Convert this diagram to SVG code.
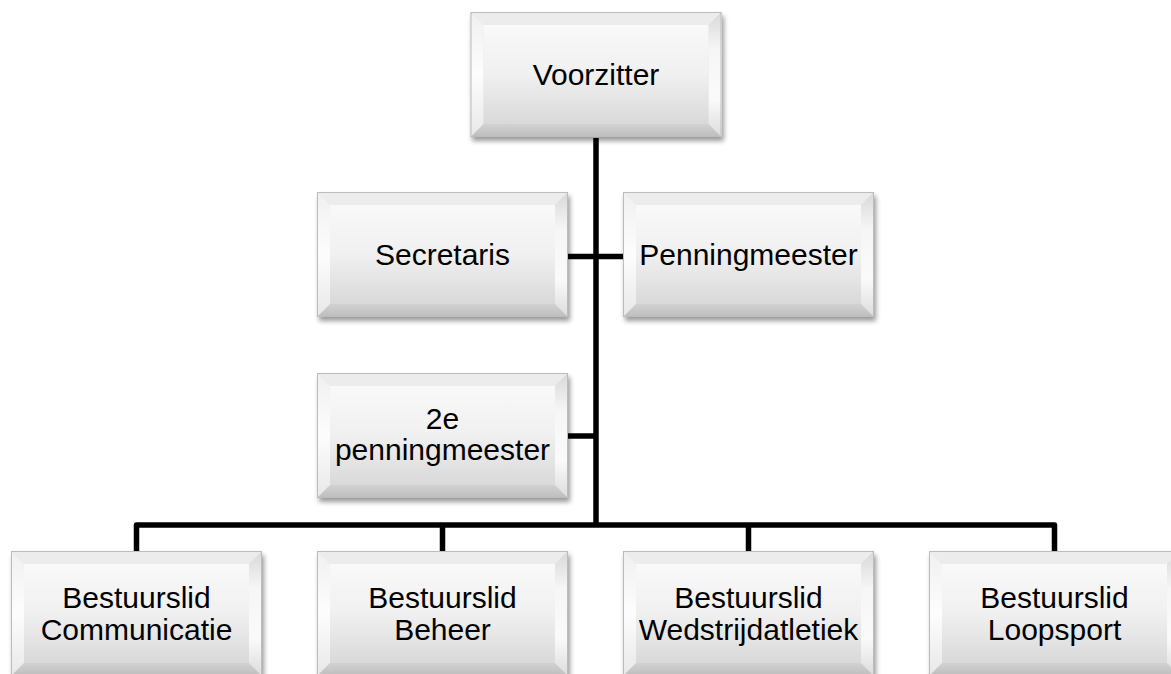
<svg xmlns="http://www.w3.org/2000/svg" xmlns:xlink="http://www.w3.org/1999/xlink" width="1171" height="674" viewBox="0 0 1171 674">
  <style>
    .lbl { font-family: "Liberation Sans", Arial, sans-serif; font-size: 30px; fill: #000; text-anchor: middle; }
    .conn { fill: none; stroke: #000; stroke-width: 5.5; stroke-linejoin: round; }
  </style>
  <defs>
    <filter id="shadow" x="-10%" y="-10%" width="125%" height="130%">
      <feGaussianBlur in="SourceAlpha" stdDeviation="2.5"/>
      <feOffset dx="2" dy="4" result="b"/>
      <feComponentTransfer><feFuncA type="linear" slope="0.4"/></feComponentTransfer>
      <feMerge><feMergeNode/><feMergeNode in="SourceGraphic"/></feMerge>
    </filter>
    <linearGradient id="face" x1="0" y1="0" x2="0" y2="1">
      <stop offset="0" stop-color="#f9f9f9"/>
      <stop offset="0.5" stop-color="#f0f0f0"/>
      <stop offset="1" stop-color="#d9d9d9"/>
    </linearGradient>
    <linearGradient id="rightBevel" x1="0" y1="0" x2="0" y2="1">
      <stop offset="0" stop-color="#d8d8d8"/>
      <stop offset="0.3" stop-color="#f6f6f6"/>
      <stop offset="0.7" stop-color="#fafafa"/>
      <stop offset="1" stop-color="#dcdcdc"/>
    </linearGradient>
    <linearGradient id="leftBevel" x1="0" y1="0" x2="0" y2="1">
      <stop offset="0" stop-color="#f0f0f0"/>
      <stop offset="0.5" stop-color="#fdfdfd"/>
      <stop offset="1" stop-color="#e8e8e8"/>
    </linearGradient>
    <linearGradient id="bottomBevel" x1="0" y1="0" x2="0" y2="1">
      <stop offset="0" stop-color="#d2d2d2"/>
      <stop offset="1" stop-color="#bdbdbd"/>
    </linearGradient>
    <g id="box">
      <g filter="url(#shadow)">
        <rect x="0" y="0" width="251" height="125" fill="#e4e4e4"/>
        <polygon points="0,0 251,0 238,13 13,13" fill="#ececec"/>
        <polygon points="0,0 13,13 13,112 0,125" fill="url(#leftBevel)"/>
        <polygon points="251,0 251,125 238,112 238,13" fill="url(#rightBevel)"/>
        <polygon points="0,125 13,112 238,112 251,125" fill="url(#bottomBevel)"/>
        <rect x="13" y="13" width="225" height="99" fill="url(#face)"/>
        <rect x="0.5" y="0.5" width="250" height="124" fill="none" stroke="#bcbcbc" stroke-width="1"/>
      </g>
    </g>
  </defs>

  <g id="connectors">
    <path class="conn" d="M596,138 V525"/>
    <path class="conn" d="M568,256.5 H623"/>
    <path class="conn" d="M568,436 H596"/>
    <path class="conn" d="M136.5,551 V525 H1054.5 V551"/>
    <path class="conn" d="M442.5,525 V551"/>
    <path class="conn" d="M748.5,525 V551"/>
  </g>

  <g id="voorzitter">
    <use xlink:href="#box" href="#box" x="470.5" y="12"/>
    <text class="lbl" x="596" y="85">Voorzitter</text>
  </g>

  <g id="secretaris">
    <use xlink:href="#box" href="#box" x="317" y="192"/>
    <text class="lbl" x="442.5" y="265">Secretaris</text>
  </g>

  <g id="penningmeester">
    <use xlink:href="#box" href="#box" x="623" y="192"/>
    <text class="lbl" x="748.5" y="265">Penningmeester</text>
  </g>

  <g id="penningmeester2">
    <use xlink:href="#box" href="#box" x="317" y="373"/>
    <text class="lbl" x="442.5" y="429">2e</text>
    <text class="lbl" x="442.5" y="460">penningmeester</text>
  </g>

  <g id="communicatie">
    <use xlink:href="#box" href="#box" x="11" y="551"/>
    <text class="lbl" x="136.5" y="608">Bestuurslid</text>
    <text class="lbl" x="136.5" y="640">Communicatie</text>
  </g>

  <g id="beheer">
    <use xlink:href="#box" href="#box" x="317" y="551"/>
    <text class="lbl" x="442.5" y="608">Bestuurslid</text>
    <text class="lbl" x="442.5" y="640">Beheer</text>
  </g>

  <g id="wedstrijdatletiek">
    <use xlink:href="#box" href="#box" x="623" y="551"/>
    <text class="lbl" x="748.5" y="608">Bestuurslid</text>
    <text class="lbl" x="748.5" y="640">Wedstrijdatletiek</text>
  </g>

  <g id="loopsport">
    <use xlink:href="#box" href="#box" x="929" y="551"/>
    <text class="lbl" x="1054.5" y="608">Bestuurslid</text>
    <text class="lbl" x="1054.5" y="640">Loopsport</text>
  </g>
</svg>
